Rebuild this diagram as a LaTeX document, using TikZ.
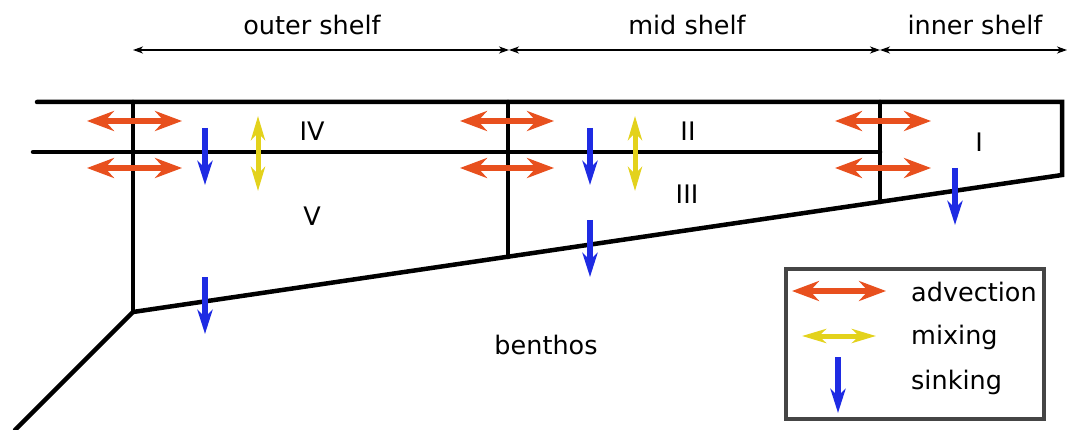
\documentclass[tikz,border=0pt]{standalone}
\usepackage{fontspec}
\setmainfont{DejaVu Sans}
\usetikzlibrary{arrows.meta}
\definecolor{advcol}{HTML}{E8501E}
\definecolor{mixcol}{HTML}{E3D21C}
\definecolor{sinkcol}{HTML}{1E2BE3}
\definecolor{boxcol}{HTML}{454545}
\tikzset{
  wall/.style={line width=4.5pt, line cap=round, line join=miter},
  hdr/.style={line width=1.6pt, {Stealth[length=10pt,width=7pt,inset=3pt]}-{Stealth[length=10pt,width=7pt,inset=3pt]}},
  adv/.style={draw=advcol, line width=6pt, {Stealth[length=27pt,width=20pt,inset=9pt]}-{Stealth[length=27pt,width=20pt,inset=9pt]}},
  mix/.style={draw=mixcol, line width=5pt, {Stealth[length=24pt,width=14pt,inset=7pt]}-{Stealth[length=24pt,width=14pt,inset=7pt]}},
  sink/.style={draw=sinkcol, line width=5.5pt, -{Stealth[length=24pt,width=15pt,inset=7pt]}},
  lbl/.style={font=\fontsize{25.5}{30}\selectfont, inner sep=0pt},
  leg/.style={font=\fontsize{25.5}{30}\selectfont, inner sep=0pt, anchor=west}
}
\begin{document}
\begin{tikzpicture}[x=1pt,y=-1pt]
\useasboundingbox (0,0) rectangle (1070,430);
% frame coordinates
\coordinate (tl) at (37,102);
\coordinate (tr) at (1062,102);
\coordinate (ml) at (33,152);
\coordinate (mr) at (880,152);
\coordinate (br) at (1062,175);
\coordinate (bl) at (133,312);
\coordinate (dl) at (15,430);
\coordinate (v1t) at (133,102);
\coordinate (v2t) at (508,102);
\coordinate (v2b) at (508,257);
\coordinate (v3t) at (880,102);
\coordinate (v3b) at (880,202);
% walls
\draw[wall] (tl) -- (tr) -- (br) -- (bl) -- (dl);
\draw[wall] (ml) -- (mr);
\draw[wall] (v1t) -- (bl);
\draw[wall] (v2t) -- (v2b);
\draw[wall] (v3t) -- (v3b);
% header
\coordinate (h0) at (133,50);
\coordinate (h1) at (509,50);
\coordinate (h2) at (880,50);
\coordinate (h3) at (1067,50);
\draw[hdr] (h0) -- (h1);
\draw[hdr] (h1) -- (h2);
\draw[hdr] (h2) -- (h3);
\node[lbl] (outer) at (312,25) {outer shelf};
\node[lbl] (mid) at (687,25) {mid shelf};
\node[lbl] (inner) at (975,25) {inner shelf};
% box labels
\node[lbl] (IV) at (312,131) {IV};
\node[lbl] (II) at (688,131) {II};
\node[lbl] (I) at (979,142) {I};
\node[lbl] (V) at (312,216) {V};
\node[lbl] (III) at (687,194) {III};
\node[lbl] (benthos) at (546,345) {benthos};
% advection arrows
\coordinate (a1l) at (87,121);  \coordinate (a1r) at (182,121);
\coordinate (a2l) at (87,168);  \coordinate (a2r) at (182,168);
\coordinate (a3l) at (460,121); \coordinate (a3r) at (554,121);
\coordinate (a4l) at (460,168); \coordinate (a4r) at (554,168);
\coordinate (a5l) at (835,121); \coordinate (a5r) at (931,121);
\coordinate (a6l) at (835,168); \coordinate (a6r) at (931,168);
\foreach \i in {1,...,6} {\draw[adv] (a\i l) -- (a\i r);}
% mixing arrows
\coordinate (m1t) at (258,116); \coordinate (m1b) at (258,191);
\coordinate (m2t) at (635,116); \coordinate (m2b) at (635,191);
\draw[mix] (m1t) -- (m1b);
\draw[mix] (m2t) -- (m2b);
% sinking arrows
\coordinate (s1t) at (205,128); \coordinate (s1b) at (205,185);
\coordinate (s2t) at (590,128); \coordinate (s2b) at (590,185);
\coordinate (s3t) at (590,220); \coordinate (s3b) at (590,277);
\coordinate (s4t) at (205,277); \coordinate (s4b) at (205,334);
\coordinate (s5t) at (955,168); \coordinate (s5b) at (955,225);
\foreach \i in {1,...,5} {\draw[sink] (s\i t) -- (s\i b);}
% legend
\node[draw=boxcol, line width=4pt, minimum width=258pt, minimum height=150pt, inner sep=0pt] (legend) at (915,344) {};
\coordinate (la1) at (792,291); \coordinate (la2) at (886,291);
\coordinate (lm1) at (802,336); \coordinate (lm2) at (876,336);
\coordinate (ls1) at (838,357); \coordinate (ls2) at (838,413);
\draw[adv] (la1) -- (la2);
\draw[mix] (lm1) -- (lm2);
\draw[sink] (ls1) -- (ls2);
\node[leg] (ladv) at (911,292) {advection};
\node[leg] (lmix) at (911,337) {mixing};
\node[leg] (lsink) at (911,382) {sinking};
\end{tikzpicture}
\end{document}
